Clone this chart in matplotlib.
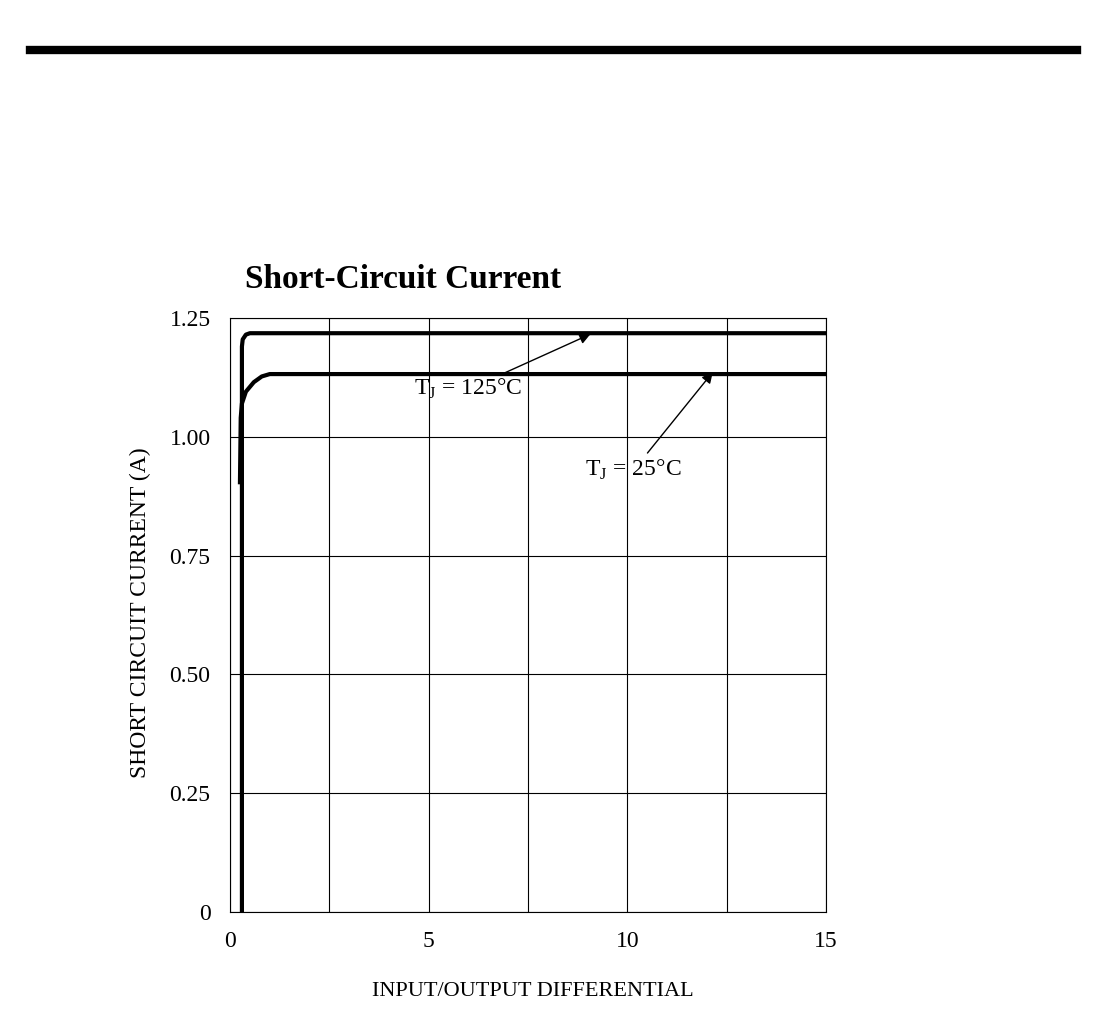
import matplotlib
matplotlib.use("Agg")
import matplotlib.pyplot as plt
from matplotlib.ticker import MultipleLocator, FixedLocator

plt.rcParams['font.family'] = ['Liberation Serif', 'DejaVu Serif']

x125 = [0.3, 0.3, 0.32, 0.4, 0.5, 15]
y125 = [0.0, 1.19, 1.205, 1.215, 1.218, 1.218]
x25 = [0.25, 0.27, 0.3, 0.4, 0.6, 0.8, 1.0, 15]
y25 = [0.90, 1.04, 1.07, 1.095, 1.115, 1.127, 1.132, 1.132]
xticks = [0, 5, 10, 15]
yticks = [0, 0.25, 0.5, 0.75, 1.0, 1.25]
ytick_labels = ["0", "0.25", "0.50", "0.75", "1.00", "1.25"]

fig = plt.figure(figsize=(11.07, 10.30), dpi=100)
fig.add_artist(plt.Line2D([30/1107, 1077/1107], [1-50/1030]*2, color='black', lw=6))

ax = fig.add_axes([230/1107, 1-912/1030, 596/1107, 594/1030])
ax.plot(x125, y125, color='black', lw=3, solid_capstyle='butt')
ax.plot(x25, y25, color='black', lw=3, solid_capstyle='butt')
ax.set_xlim(0, 15)
ax.set_ylim(0, 1.25)
ax.xaxis.set_major_locator(FixedLocator(xticks))
ax.xaxis.set_minor_locator(MultipleLocator(2.5))
ax.set_yticks(yticks)
ax.set_yticklabels(ytick_labels)
ax.grid(True, which='both', axis='x', color='black', lw=0.8)
ax.grid(True, which='major', axis='y', color='black', lw=0.8)
ax.tick_params(which='both', length=0, labelsize=17, pad=14)
for s in ax.spines.values():
    s.set_linewidth(0.8)

ax.annotate(r"T$_\mathregular{J}$ = 125°C", xy=(9.07, 1.216), xytext=(6.0, 1.10),
            fontsize=17, ha='center', va='center',
            arrowprops=dict(arrowstyle='-|>', color='black', lw=1, shrinkA=2, shrinkB=0,
                            mutation_scale=16))
ax.annotate(r"T$_\mathregular{J}$ = 25°C", xy=(12.15, 1.136), xytext=(10.16, 0.93),
            fontsize=17, ha='center', va='center',
            arrowprops=dict(arrowstyle='-|>', color='black', lw=1, shrinkA=2, shrinkB=0,
                            mutation_scale=16))

fig.text(245/1107, 1-280/1030, "Short-Circuit Current", fontsize=24, fontweight='bold',
         ha='left', va='center')
fig.text(533/1107, 1-992/1030, "INPUT/OUTPUT DIFFERENTIAL", fontsize=16, ha='center', va='center')
fig.text(140/1107, 1-613/1030, "SHORT CIRCUIT CURRENT (A)", fontsize=17, ha='center',
         va='center', rotation=90)

fig.savefig("out.png", dpi=100)
